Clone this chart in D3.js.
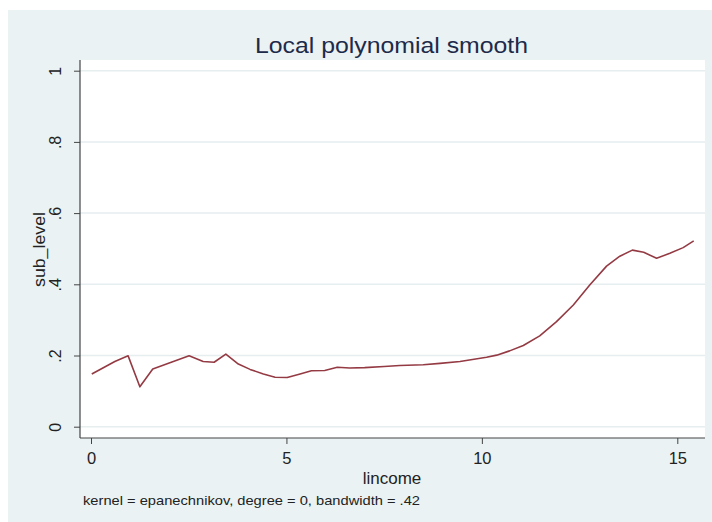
<!DOCTYPE html>
<html><head><meta charset="utf-8">
<script src="https://cdn.jsdelivr.net/npm/d3@7"></script>
<style>body{margin:0;background:#fff}svg{display:block}text{font-family:"Liberation Sans",Arial,sans-serif}</style>
</head><body>
<script>
const xValues = [0.02,0.61,0.95,1.25,1.58,2.51,2.87,3.15,3.45,3.77,4.07,4.41,4.71,5.02,5.35,5.64,5.98,6.30,6.62,7.0,7.5,7.9,8.5,8.93,9.44,10.12,10.38,10.71,11.06,11.48,11.91,12.34,12.76,13.19,13.53,13.85,14.14,14.47,14.81,15.15,15.42];
const yValues = [0.148,0.183,0.199,0.112,0.162,0.199,0.183,0.181,0.204,0.176,0.161,0.148,0.139,0.138,0.148,0.157,0.158,0.167,0.165,0.166,0.169,0.172,0.174,0.178,0.183,0.195,0.201,0.213,0.228,0.255,0.295,0.342,0.398,0.451,0.479,0.496,0.490,0.473,0.487,0.503,0.522];
const xTicks = [0,5,10,15];
const yTicks = [0,0.2,0.4,0.6,0.8,1];
const yTickLabels = ["0",".2",".4",".6",".8","1"];

const W=712,H=522;
const svg=d3.select("body").append("svg").attr("width",W).attr("height",H);
svg.append("rect").attr("x",8).attr("y",10).attr("width",W-8).attr("height",H-10).attr("fill","#eaf2f3");
const L=80,R=705,T=60,B=438;
svg.append("rect").attr("x",L).attr("y",T).attr("width",R-L).attr("height",B-T).attr("fill","#fff");

const x=d3.scaleLinear().domain([0,15]).range([91,677.3]);
const y=d3.scaleLinear().domain([0,1]).range([426.7,70.7]);

// grid
svg.append("g").selectAll("line").data(yTicks).join("line")
  .attr("x1",L).attr("x2",R).attr("y1",d=>y(d)).attr("y2",d=>y(d))
  .attr("stroke","#e6eeef").attr("stroke-width",1.5);

// line
const pts=xValues.map((v,i)=>[v,yValues[i]]);
svg.append("path").datum(pts)
  .attr("d",d3.line().x(d=>x(d[0])).y(d=>y(d[1])))
  .attr("fill","none").attr("stroke","#943a43").attr("stroke-width",1.6).attr("stroke-linejoin","round");

// axes
const yAxis=d3.axisLeft(y).tickValues(yTicks).tickFormat((d,i)=>yTickLabels[i]).tickSize(6).tickPadding(6);
const gy=svg.append("g").attr("transform",`translate(${L},0)`).call(yAxis);
gy.select(".domain").attr("d",`M0,${T}V${B}`).attr("stroke","#444");
gy.selectAll(".tick line").attr("stroke","#444");
gy.selectAll(".tick text").attr("font-size",16).attr("fill","#222")
  .attr("transform",function(d){return `rotate(-90,${-16},0)`;})
  .attr("x",-16).attr("dy","0").attr("text-anchor","middle").attr("y",-3);

const xAxis=d3.axisBottom(x).tickValues(xTicks).tickFormat(d3.format("d")).tickSize(6).tickPadding(8);
const gx=svg.append("g").attr("transform",`translate(0,${B})`).call(xAxis);
gx.select(".domain").attr("d",`M${L},0H${R}`).attr("stroke","#444");
gx.selectAll(".tick line").attr("stroke","#444");
gx.selectAll(".tick text").attr("font-size",16.5).attr("fill","#222");
svg.selectAll(".domain").attr("stroke-width",1.2);

svg.append("text").attr("x",391.5).attr("y",52.5).attr("text-anchor","middle").attr("font-size",22.5)
  .attr("textLength",273).attr("lengthAdjust","spacingAndGlyphs").attr("fill","#1e2a4a").text("Local polynomial smooth");
svg.append("text").attr("x",392).attr("y",484).attr("text-anchor","middle").attr("font-size",17).attr("fill","#222").text("lincome");
svg.append("text").attr("transform","translate(45,249.5) rotate(-90)").attr("text-anchor","middle").attr("font-size",17)
  .attr("textLength",75).attr("lengthAdjust","spacingAndGlyphs").attr("fill","#222").text("sub_level");
svg.append("text").attr("x",83).attr("y",505).attr("font-size",13.5)
  .attr("textLength",337).attr("lengthAdjust","spacingAndGlyphs").attr("fill","#222").text("kernel = epanechnikov, degree = 0, bandwidth = .42");
</script>
</body></html>
